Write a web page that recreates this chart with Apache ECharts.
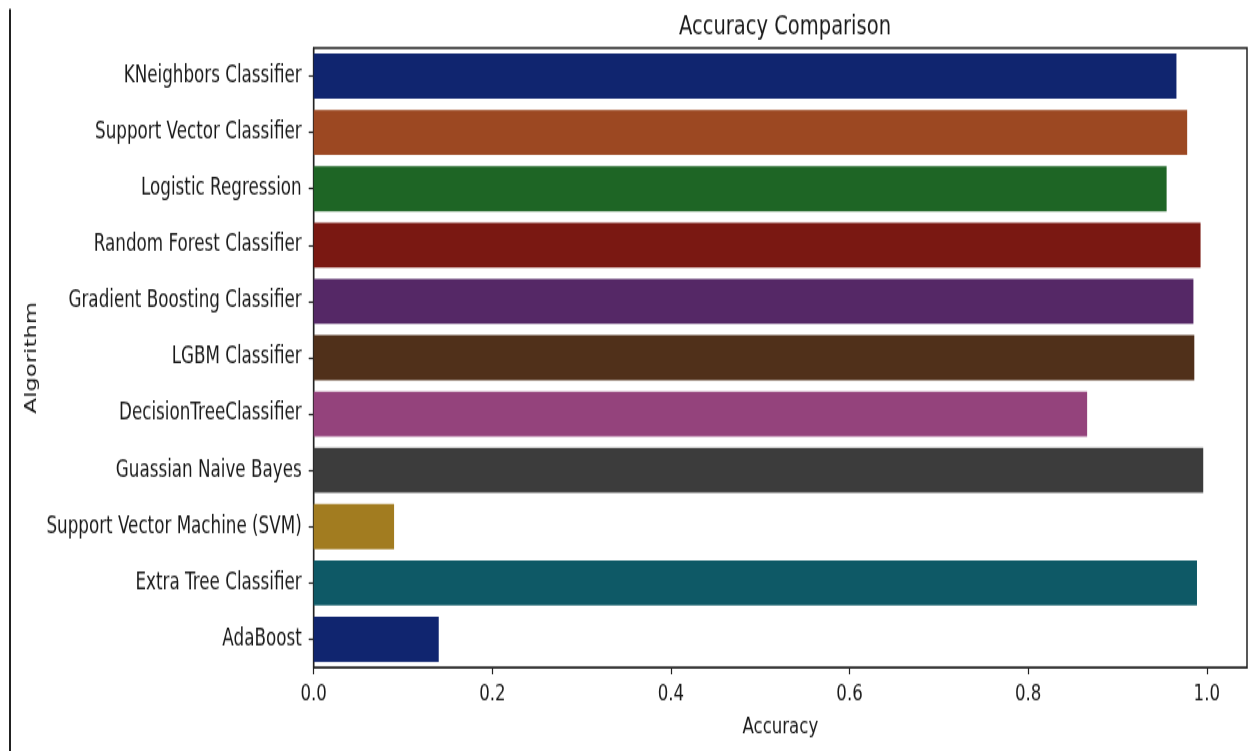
<!DOCTYPE html>
<html>
<head>
<meta charset="utf-8">
<script src="https://cdn.jsdelivr.net/npm/echarts@6/dist/echarts.min.js"></script>
<style>
  html, body { margin: 0; padding: 0; background: #ffffff; overflow: hidden; }
  #wrap { width: 1254px; height: 751px; overflow: hidden; }
  /* chart is laid out on a shorter canvas and stretched to full height */
  #chart { width: 1254px; height: 548px; transform: scaleY(1.3704); transform-origin: 0 0; }
</style>
</head>
<body>
<div id="wrap"><div id="chart"></div></div>
<script>
// Algorithms, top to bottom
const categories = [
  'KNeighbors Classifier',
  'Support Vector Classifier',
  'Logistic Regression',
  'Random Forest Classifier',
  'Gradient Boosting Classifier',
  'LGBM Classifier',
  'DecisionTreeClassifier',
  'Guassian Naive Bayes',
  'Support Vector Machine (SVM)',
  'Extra Tree Classifier',
  'AdaBoost'
];

// Accuracy score of each algorithm
const accuracy = [0.966, 0.978, 0.955, 0.993, 0.985, 0.986, 0.866, 0.996, 0.090, 0.989, 0.140];

// Muted "dark" palette, one colour per bar (cycles after ten)
const barColors = [
  '#10256f', '#9c4822', '#1e6525', '#7a1812', '#552866',
  '#50301a', '#94437c', '#3c3c3c', '#a27c20', '#0e5966', '#10256f'
];

const xTicks = { min: 0, max: 1.045, interval: 0.2 };

const FONT = 'DejaVu Sans';
const TEXT = '#1a1a1a';
const LINE = '#222222';

const chart = echarts.init(document.getElementById('chart'), null, { renderer: 'canvas' });

chart.setOption({
  backgroundColor: '#ffffff',
  animation: false,
  title: {
    text: 'Accuracy Comparison',
    left: 780,
    top: 5,
    textAlign: 'center',
    textStyle: { fontFamily: FONT, fontSize: 19.5, fontWeight: 'normal', color: TEXT }
  },
  grid: {
    left: 313.7,
    right: 7,
    top: 35,
    bottom: 61,
    show: true,
    borderColor: LINE,
    borderWidth: 1.5,
    backgroundColor: 'transparent'
  },
  xAxis: {
    type: 'value',
    min: xTicks.min,
    max: xTicks.max,
    interval: xTicks.interval,
    name: 'Accuracy',
    nameLocation: 'middle',
    nameGap: 35.5,
    nameTextStyle: { fontFamily: FONT, fontSize: 16.6, color: TEXT },
    splitLine: { show: false },
    axisLine: { show: true, lineStyle: { color: LINE, width: 1.2 } },
    axisTick: { show: true, length: 5, lineStyle: { color: LINE, width: 1.2 } },
    axisLabel: {
      margin: 11,
      showMaxLabel: false,
      fontFamily: FONT, fontSize: 16.6, color: TEXT,
      formatter: v => v.toFixed(1)
    }
  },
  yAxis: {
    type: 'category',
    inverse: true,
    data: categories,
    name: 'Algorithm',
    nameLocation: 'middle',
    nameRotate: 90,
    nameGap: 274,
    nameMoveOverlap: false,
    nameTextStyle: { fontFamily: FONT, fontSize: 16.6, color: TEXT },
    axisLine: { show: true, lineStyle: { color: LINE, width: 1.2 } },
    axisTick: { show: true, alignWithLabel: true, length: 5, lineStyle: { color: LINE, width: 1.2 } },
    axisLabel: { margin: 12, fontFamily: FONT, fontSize: 16.75, color: TEXT },
    splitLine: { show: false }
  },
  series: [{
    type: 'bar',
    barWidth: '80%',
    data: accuracy.map((v, i) => ({ value: v, itemStyle: { color: barColors[i % barColors.length] } }))
  }],
  graphic: [{
    type: 'line',
    shape: { x1: 10, y1: 6.6, x2: 10, y2: 548 },
    style: { stroke: LINE, lineWidth: 2 },
    silent: true
  }]
});
</script>
</body>
</html>
